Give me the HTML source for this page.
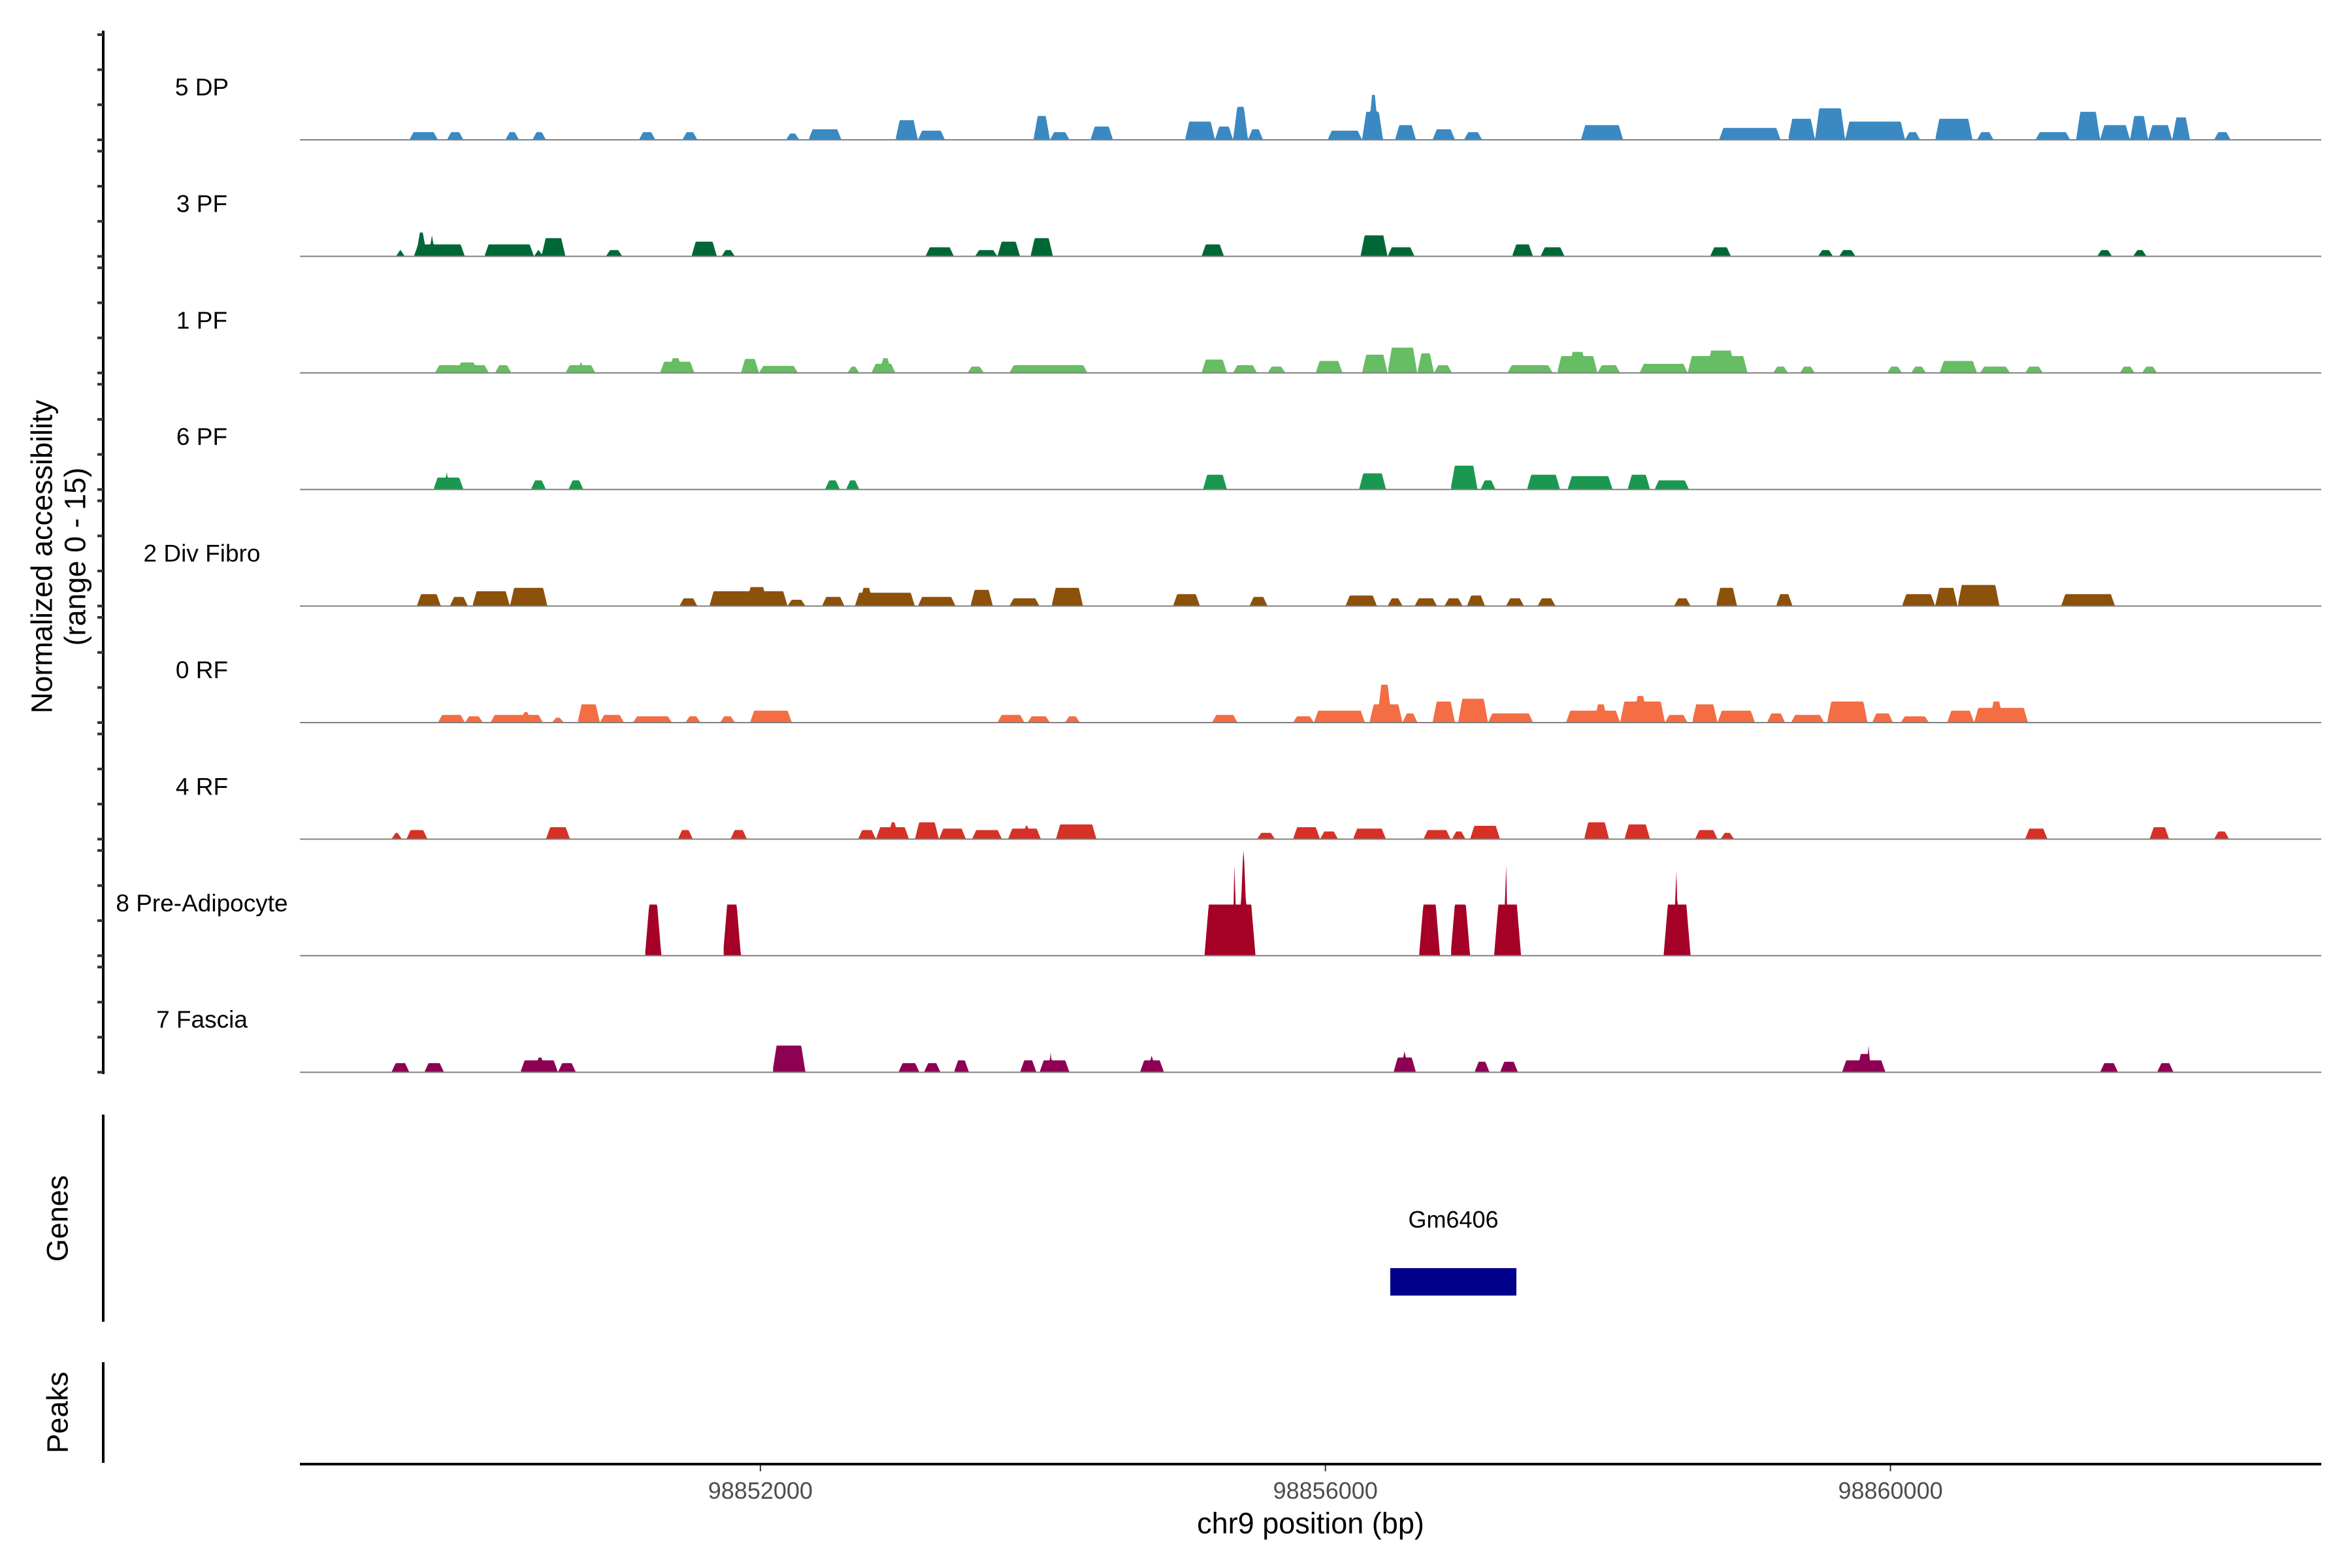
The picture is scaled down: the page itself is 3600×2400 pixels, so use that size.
<!DOCTYPE html>
<html><head><meta charset="utf-8"><title>Coverage plot</title>
<style>html,body{margin:0;padding:0;background:#fff}svg{display:block}</style></head>
<body>
<svg id="chart" width="3600" height="2400" viewBox="0 0 3600 2400" xmlns="http://www.w3.org/2000/svg" font-family="Liberation Sans, sans-serif">
<rect x="0" y="0" width="3600" height="2400" fill="#fff"/>
<g id="tracks"></g>
<g id="yaxis">
<line x1="158" y1="47" x2="158" y2="1644" stroke="#000" stroke-width="4"/>
<line x1="158" y1="1706" x2="158" y2="2023" stroke="#000" stroke-width="4"/>
<line x1="158" y1="2085" x2="158" y2="2239" stroke="#000" stroke-width="4"/>
<text transform="translate(64,852) rotate(-90)" text-anchor="middle" font-size="45" dominant-baseline="central">Normalized accessibility</text>
<text transform="translate(115,852) rotate(-90)" text-anchor="middle" font-size="45" dominant-baseline="central">(range 0 - 15)</text>
<text transform="translate(88,1865) rotate(-90)" text-anchor="middle" font-size="45" dominant-baseline="central">Genes</text>
<text transform="translate(88,2162) rotate(-90)" text-anchor="middle" font-size="45" dominant-baseline="central">Peaks</text>
</g>
<g id="genes"></g>
<g id="xaxis">
<line x1="459" y1="2241" x2="3553" y2="2241" stroke="#000" stroke-width="4"/>
<text x="2006" y="2347" text-anchor="middle" font-size="45">chr9 position (bp)</text>
</g>
</svg>
<script>
const trackNames = ["5 DP","3 PF","1 PF","6 PF","2 Div Fibro","0 RF","4 RF","8 Pre-Adipocyte","7 Fascia"];
const trackColors = ["#3a89c2","#006837","#66bd63","#1a9850","#8c510a","#f46d43","#d73027","#a50026","#8e0152"];
const xTicks = [98852000, 98856000, 98860000];
const xTickLabels = ["98852000","98856000","98860000"];
const yTickValues = [0, 5, 10, 15];
const geneNames = ["Gm6406"];
const geneStarts = [98856459];
const geneEnds = [98857352];
const peaksDP = [[98849515,98849717,1.1],[98849781,98849898,1.1],[98850195,98850291,1.1],[98850386,98850482,1.1],[98851140,98851257,1.1],[98851448,98851554,1.1],[98852181,98852276,0.9],[98852340,98852574,1.5],[98852956,98853115,2.8],[98853115,98853307,1.3],[98853933,98854050,3.4],[98854050,98854188,1.1],[98854337,98854496,1.9],[98855006,98855218,2.6],[98855218,98855346,1.9],[98855346,98855452,4.7],[98855452,98855558,1.5],[98856015,98856259,1.3],[98856259,98856408,4.0],[98856300,98856380,6.4],[98856493,98856641,2.1],[98856758,98856917,1.5],[98856981,98857109,1.1],[98857809,98858107,2.1],[98858787,98859222,1.7],[98859275,98859466,3.0],[98859466,98859679,4.5],[98859679,98860103,2.6],[98860103,98860210,1.1],[98860316,98860581,3.0],[98860613,98860730,1.1],[98861027,98861272,1.1],[98861314,98861484,4.0],[98861484,98861696,2.1],[98861696,98861824,3.4],[98861824,98861994,2.1],[98861994,98862121,3.2],[98862291,98862408,1.1]];
const peaks3PF = [[98849420,98849483,0.9],[98849547,98849908,1.7],[98849560,98849640,3.4],[98849650,98849700,3.0],[98850046,98850397,1.7],[98850397,98850461,0.9],[98850450,98850620,2.6],[98850906,98851023,0.9],[98851512,98851692,2.1],[98851724,98851820,0.9],[98853169,98853370,1.3],[98853519,98853678,0.9],[98853678,98853838,2.1],[98853912,98854071,2.6],[98855123,98855282,1.7],[98856248,98856440,3.0],[98856440,98856631,1.3],[98857321,98857470,1.7],[98857523,98857693,1.3],[98858723,98858871,1.3],[98859487,98859594,0.9],[98859636,98859753,0.9],[98861463,98861569,0.9],[98861718,98861813,0.9]];
const peaks1PF = [[98849696,98850078,1.1],[98849850,98850000,1.5],[98850121,98850237,1.1],[98850620,98850832,1.1],[98850700,98850760,1.6],[98851289,98851533,1.6],[98851350,98851450,2.1],[98851862,98851990,2.0],[98851990,98852266,1.0],[98852616,98852701,0.9],[98852786,98852956,1.3],[98852840,98852930,2.1],[98853466,98853583,0.9],[98853763,98854316,1.1],[98855123,98855303,1.9],[98855346,98855516,1.1],[98855590,98855717,0.9],[98855930,98856121,1.7],[98856259,98856440,2.6],[98856440,98856650,3.6],[98856650,98856769,2.8],[98856769,98856896,1.1],[98857289,98857608,1.1],[98857640,98857926,2.4],[98857720,98857850,3.0],[98857926,98858086,1.1],[98858224,98858564,1.3],[98858564,98858988,2.4],[98858700,98858900,3.2],[98859169,98859275,0.9],[98859360,98859466,0.9],[98859976,98860082,0.9],[98860146,98860252,0.9],[98860348,98860613,1.7],[98860634,98860847,0.9],[98860953,98861080,0.9],[98861622,98861728,0.9],[98861781,98861888,0.9]];
const peaks6PF = [[98849685,98849898,1.7],[98849760,98849800,2.5],[98850375,98850482,1.3],[98850641,98850747,1.3],[98852457,98852563,1.3],[98852606,98852701,1.3],[98855133,98855303,2.1],[98856238,98856429,2.3],[98856886,98857077,3.4],[98857098,98857204,1.3],[98857427,98857661,2.1],[98857714,98858033,1.9],[98858139,98858298,2.1],[98858330,98858574,1.3]];
const peaksDiv = [[98849568,98849738,1.7],[98849802,98849929,1.3],[98849961,98850227,2.1],[98850227,98850492,2.6],[98851427,98851554,1.1],[98851639,98852192,2.1],[98851900,98852050,2.7],[98852192,98852319,0.9],[98852436,98852595,1.3],[98852669,98853094,1.9],[98852700,98852800,2.6],[98853115,98853381,1.3],[98853487,98853646,2.3],[98853763,98853976,1.1],[98854061,98854284,2.6],[98854921,98855112,1.7],[98855462,98855590,1.3],[98856142,98856365,1.5],[98856440,98856546,1.1],[98856631,98856790,1.1],[98856843,98856971,1.1],[98857002,98857130,1.5],[98857278,98857406,1.1],[98857502,98857629,1.1],[98858468,98858585,1.1],[98858765,98858914,2.6],[98859190,98859307,1.7],[98860082,98860316,1.7],[98860316,98860475,2.6],[98860475,98860772,3.0],[98861208,98861590,1.7]];
const peaks0RF = [[98849717,98849908,1.1],[98849908,98850036,0.9],[98850089,98850460,1.1],[98850300,98850380,1.5],[98850524,98850609,0.7],[98850705,98850864,2.6],[98850864,98851034,1.1],[98851098,98851374,0.9],[98851469,98851576,0.9],[98851714,98851820,0.9],[98851926,98852223,1.7],[98853678,98853869,1.1],[98853891,98854050,0.9],[98854156,98854262,0.9],[98855197,98855378,1.1],[98855770,98855919,0.9],[98855919,98856280,1.7],[98856312,98856546,2.6],[98856365,98856471,5.4],[98856546,98856652,1.3],[98856758,98856917,3.0],[98856939,98857151,3.4],[98857151,98857470,1.3],[98857703,98858086,1.7],[98857900,98858000,2.6],[98858086,98858404,3.0],[98858180,98858280,3.8],[98858404,98858564,1.1],[98858595,98858776,2.6],[98858776,98859041,1.7],[98859126,98859254,1.3],[98859296,98859530,1.1],[98859551,98859838,3.0],[98859870,98860018,1.3],[98860072,98860273,0.9],[98860401,98860592,1.7],[98860592,98860974,2.1],[98860700,98860800,3.0]];
const peaks4RF = [[98849388,98849462,0.9],[98849494,98849643,1.3],[98850482,98850652,1.7],[98851416,98851522,1.3],[98851788,98851905,1.3],[98852691,98852818,1.3],[98852818,98853052,1.7],[98852900,98852980,2.4],[98853094,98853264,2.4],[98853264,98853455,1.5],[98853498,98853710,1.3],[98853753,98853986,1.5],[98853850,98853920,1.9],[98854092,98854379,2.1],[98855516,98855643,0.9],[98855770,98855962,1.7],[98855962,98856089,1.1],[98856195,98856429,1.5],[98856694,98856886,1.3],[98856896,98856992,1.1],[98857024,98857236,1.9],[98857831,98858008,2.4],[98858117,98858298,2.1],[98858617,98858776,1.3],[98858797,98858893,0.9],[98860953,98861112,1.5],[98861834,98861973,1.7],[98862291,98862397,1.1]];
const peaksPre = [[98851183,98851299,7.3],[98851735,98851862,7.3],[98855144,98855505,7.3],[98855346,98855367,15],[98855388,98855452,15],[98856663,98856811,7.3],[98856886,98857024,7.3],[98857194,98857385,7.3],[98857268,98857289,15],[98858394,98858585,7.3],[98858468,98858500,12.8]];
const peaksFascia = [[98849388,98849515,1.3],[98849621,98849760,1.3],[98850301,98850567,1.7],[98850400,98850480,2.1],[98850567,98850694,1.3],[98852085,98852319,3.8],[98852977,98853126,1.3],[98853158,98853275,1.3],[98853370,98853477,1.7],[98853838,98853954,1.7],[98853976,98854188,1.7],[98854040,98854070,2.8],[98854687,98854857,1.7],[98854740,98854800,2.4],[98856482,98856641,2.1],[98856530,98856590,3.0],[98857055,98857162,1.5],[98857236,98857363,1.5],[98859657,98859965,1.7],[98859760,98859870,2.6],[98859830,98859860,3.8],[98861484,98861611,1.3],[98861888,98862004,1.3]];
const trackPeaks = [peaksDP, peaks3PF, peaks1PF, peaks6PF, peaksDiv, peaks0RF, peaks4RF, peaksPre, peaksFascia];

const NS = "http://www.w3.org/2000/svg";
const X0 = 459, X1 = 3553, D0 = 98848740, D1 = 98863050;
function xScale(bp){ return X0 + (bp - D0) / (D1 - D0) * (X1 - X0); }
const BASE0 = 214, TRACK_STEP = 178.4, PANEL_H = 161, YMAX = 15;
function baseline(i){ return BASE0 + i * TRACK_STEP; }
function yScale(i, v){ return baseline(i) - Math.min(v, YMAX) / YMAX * PANEL_H; }
function peakValue(p, pos){
  const s = p[0], e = p[1], h = p[2];
  if (pos < s || pos > e) return 0;
  const sl = Math.min(30, (e - s) / 2);
  return h * Math.min(1, (pos - s) / sl, (e - pos) / sl);
}
function mk(tag, attrs, parent){
  const el = document.createElementNS(NS, tag);
  for (const k in attrs) el.setAttribute(k, attrs[k]);
  parent.appendChild(el);
  return el;
}
const tracksG = document.getElementById("tracks");
const yaxisG = document.getElementById("yaxis");
const STEP = 5;
trackNames.forEach((name, i) => {
  const g = mk("g", {}, tracksG);
  
  
  const peaks = trackPeaks[i];
  let d = "";
  let inside = false;
  for (let pos = D0; pos <= D1; pos += STEP) {
    let v = 0;
    for (const p of peaks) { const pv = peakValue(p, pos); if (pv > v) v = pv; }
    const x = xScale(pos).toFixed(2);
    if (v > 0) {
      if (!inside) { d += "M" + x + "," + baseline(i).toFixed(2); inside = true; }
      d += "L" + x + "," + yScale(i, v).toFixed(2);
    } else if (inside) {
      d += "L" + x + "," + baseline(i).toFixed(2) + "Z";
      inside = false;
    }
  }
  if (inside) d += "L" + xScale(D1).toFixed(2) + "," + baseline(i).toFixed(2) + "Z";
  const area = mk("path", {d: d, fill: trackColors[i], stroke: "none"}, g);
  
  
  const bl = mk("line", {x1: X0, x2: X1, y1: baseline(i), y2: baseline(i), stroke: "#808080", "stroke-width": 2}, g);
  
  
  const lab = mk("text", {x: 309, y: baseline(i) - PANEL_H / 2, "text-anchor": "middle", "dominant-baseline": "central", "font-size": 37, fill: "#000"}, g);
  lab.textContent = name;
  
  
  yTickValues.forEach(v => {
    const t = mk("line", {x1: 149, x2: 158, y1: yScale(i, v), y2: yScale(i, v), stroke: "#333", "stroke-width": 4}, yaxisG);
    
    
  });
});
const xaxisG = document.getElementById("xaxis");
xTicks.forEach((t, k) => {
  const x = xScale(t);
  const tl = mk("line", {x1: x, x2: x, y1: 2243, y2: 2252, stroke: "#333", "stroke-width": 2}, xaxisG);
  
  
  const tx = mk("text", {x: x, y: 2294, "text-anchor": "middle", "font-size": 36, fill: "#4d4d4d"}, xaxisG);
  tx.textContent = xTickLabels[k];
  
  
});
const genesG = document.getElementById("genes");
geneNames.forEach((gname, k) => {
  const x0 = xScale(geneStarts[k]), x1 = xScale(geneEnds[k]);
  const r = mk("rect", {x: x0, y: 1941, width: x1 - x0, height: 42, fill: "#00008b"}, genesG);
  
  
  const t = mk("text", {x: (x0 + x1) / 2, y: 1879, "text-anchor": "middle", "font-size": 36, fill: "#000"}, genesG);
  t.textContent = gname;
  
  
});
</script>
</body></html>
